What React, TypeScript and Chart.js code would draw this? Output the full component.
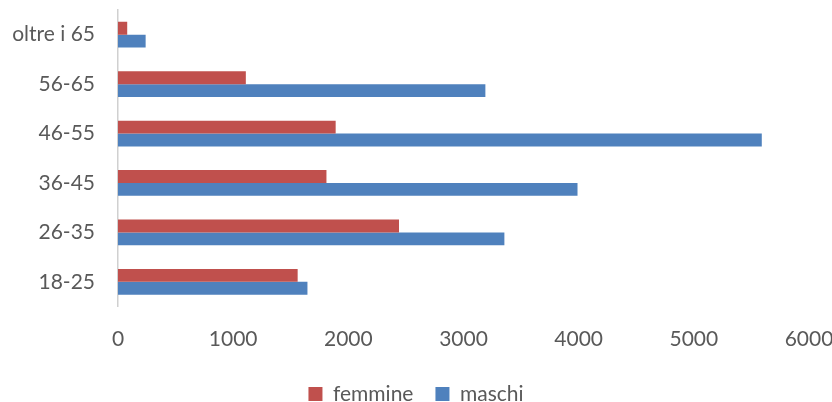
import React, { useEffect, useRef } from "react";
import { Chart, registerables } from "chart.js";

Chart.register(...registerables);

const categories = ["oltre i 65", "56-65", "46-55", "36-45", "26-35", "18-25"];
const femmine = [80, 1110, 1890, 1810, 2440, 1560];
const maschi = [240, 3190, 5590, 3990, 3355, 1645];
const xTicks = [0, 1000, 2000, 3000, 4000, 5000, 6000];

const TEXT = "#595959";
const FONT = "Lato";

export default function App() {
  const ref = useRef<HTMLCanvasElement | null>(null);
  useEffect(() => {
    if (!ref.current) return;
    const chart = new Chart(ref.current, {
      type: "bar",
      data: {
        labels: categories,
        datasets: [
          { label: "femmine", data: femmine, backgroundColor: "#C0504D", categoryPercentage: 0.52, barPercentage: 1 },
          { label: "maschi", data: maschi, backgroundColor: "#4F81BD", categoryPercentage: 0.52, barPercentage: 1 },
        ],
      },
      options: {
        indexAxis: "y",
        animation: false,
        responsive: true,
        maintainAspectRatio: false,
        layout: { padding: { top: 10, right: 0, left: 0, bottom: -12.5 } },
        plugins: {
          tooltip: { enabled: false },
          legend: {
            position: "bottom",
            labels: {
              color: TEXT,
              font: { family: FONT, size: 21 },
              boxWidth: 14,
              boxHeight: 14,
              padding: 22,
            },
          },
        },
        scales: {
          x: {
            min: 0,
            max: 6000,
            afterBuildTicks: (scale: any) => {
              scale.ticks = xTicks.map((v) => ({ value: v }));
            },
            afterFit: (scale: any) => {
              scale.height = 55;
              scale.paddingLeft = 0;
              scale.paddingRight = 23;
            },
            grid: { display: false, drawTicks: false },
            border: { display: false },
            ticks: {
              color: TEXT,
              font: { family: FONT, size: 21 },
              padding: 20,
              maxRotation: 0,
              callback: (v: any) => String(v),
            },
          },
          y: {
            afterFit: (scale: any) => {
              scale.width = 118;
              scale.paddingTop = 0;
              scale.paddingBottom = 0;
            },
            grid: { display: false, drawTicks: false },
            border: { display: true, color: "#d0d0d0", width: 1.5 },
            ticks: { color: TEXT, font: { family: FONT, size: 21 }, padding: 23 },
          },
        },
      },
    });
    return () => chart.destroy();
  }, []);
  return (
    <div style={{ position: "absolute", left: 0, top: 0, width: 832, height: 402 }}>
      <canvas ref={ref} />
    </div>
  );
}
